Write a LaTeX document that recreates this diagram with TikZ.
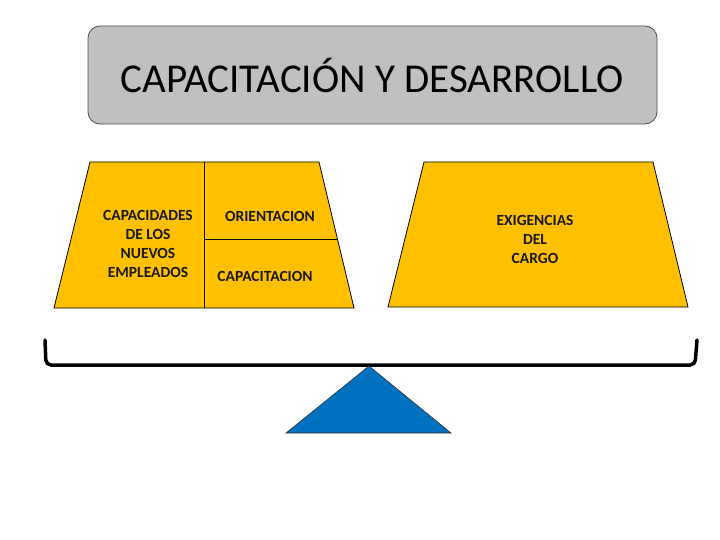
\documentclass[tikz,border=0pt]{standalone}
\usepackage{fontspec}
\setmainfont{Carlito}
\definecolor{gold}{HTML}{FFC000}
\definecolor{titlegray}{HTML}{C0C0C0}
\definecolor{fulcrum}{HTML}{0070C0}
\begin{document}
\begin{tikzpicture}[x=1pt,y=-1pt,
  panel/.style={fill=gold,draw=black,line width=0.8pt},
  smalltxt/.style={font=\fontsize{15.5}{19}\selectfont\bfseries,align=center,text=black!90},
  divider/.style={draw=black,line width=0.8pt}]
\useasboundingbox (0,0) rectangle (720,540);
% title
\node[draw=black!70,line width=0.8pt,fill=titlegray,rounded corners=12pt,minimum width=569pt,minimum height=98pt] (title) at (372.5,75) {};
\node[font=\fontsize{41}{46}\selectfont,text=black] (titletext) at (372,76) {CAPACITACIÓN Y DESARROLLO};
% left panel
\path[panel] (90,162) -- (319,162) -- (354,308) -- (54,308) -- cycle;
\draw[divider] (204,162) -- (204,308);
\draw[divider] (204,239) -- (337,239);
\node[smalltxt] (cap) at (148,244) {CAPACIDADES\\DE LOS\\NUEVOS\\EMPLEADOS};
\node[smalltxt] (ori) at (270,216) {ORIENTACION};
\node[smalltxt] (capa) at (265,276) {CAPACITACION};
% right panel
\path[panel] (424,162) -- (653,162) -- (688,307) -- (388,307) -- cycle;
\node[smalltxt] (exi) at (535,239) {EXIGENCIAS\\DEL\\CARGO};
% beam
\draw[line width=3.5pt,line cap=round,rounded corners=5pt] (45,340) -- (46,365) -- (695,365) -- (697,340);
% fulcrum
\path[fill=fulcrum,draw=black!80,line width=0.6pt] (369,366) -- (451,433) -- (286,433) -- cycle;
\end{tikzpicture}
\end{document}
